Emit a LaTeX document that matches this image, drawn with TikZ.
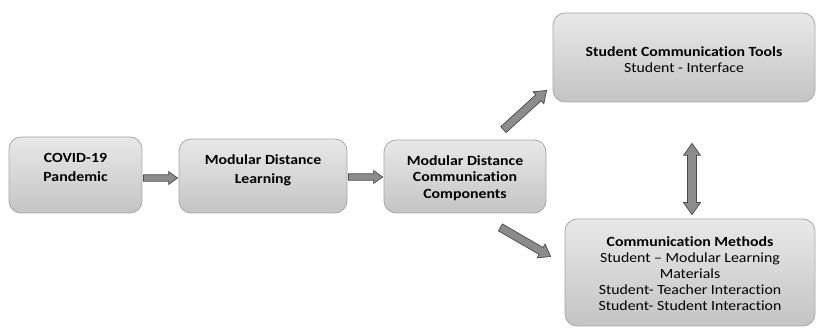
\documentclass[tikz,border=0pt]{standalone}
\usepackage{fontspec}
\setmainfont[FakeStretch=1.13, Ligatures={NoCommon,NoContextual}]{Carlito}
\usetikzlibrary{calc}

\definecolor{boxtop}{HTML}{E8E8E8}
\definecolor{boxbot}{HTML}{C4C4C4}
\definecolor{boxedge}{HTML}{A6A6A6}
\definecolor{arrfill}{HTML}{8C8C8C}
\definecolor{arredge}{HTML}{4A4A4A}

% single block arrow: tail, tip, shaft half-width, head half-width, head length
\newcommand\blockarrow[5]{%
  \coordinate (ba-h) at ($(#2)!#5!(#1)$);
  \filldraw[arrowbody]
    ($(#1)!#3!90:(#2)$) -- ($(ba-h)!#3!-90:(#1)$) -- ($(ba-h)!#4!-90:(#1)$) --
    (#2) -- ($(ba-h)!#4!90:(#1)$) -- ($(ba-h)!#3!90:(#1)$) --
    ($(#1)!#3!-90:(#2)$) -- cycle;
}
% double-headed block arrow: end, end, shaft half-width, head half-width, head length
\newcommand\blockdarrow[5]{%
  \coordinate (bd-h1) at ($(#1)!#5!(#2)$);
  \coordinate (bd-h2) at ($(#2)!#5!(#1)$);
  \filldraw[arrowbody]
    (#1) -- ($(bd-h1)!#4!90:(#2)$) -- ($(bd-h1)!#3!90:(#2)$) --
    ($(bd-h2)!#3!-90:(#1)$) -- ($(bd-h2)!#4!-90:(#1)$) -- (#2) --
    ($(bd-h2)!#4!90:(#1)$) -- ($(bd-h2)!#3!90:(#1)$) --
    ($(bd-h1)!#3!-90:(#2)$) -- ($(bd-h1)!#4!-90:(#2)$) -- cycle;
}

\tikzset{
  stagebox/.style={draw=boxedge, line width=0.8pt, rounded corners=12pt,
    top color=boxtop, bottom color=boxbot, inner sep=0pt},
  lbl/.style={align=center, inner sep=0pt, font=\fontsize{14}{16}\selectfont},
  lblb/.style={lbl, font=\fontsize{14}{19}\selectfont\bfseries},
  arrowbody/.style={fill=arrfill, draw=arredge, line width=0.7pt, line join=miter},
}

\begin{document}
\begin{tikzpicture}[x=1pt, y=-1pt]
  \useasboundingbox (0,0) rectangle (816,328);

  % stage boxes
  \node[stagebox, minimum width=133pt, minimum height=76pt] (covid) at (75.5,175) {};
  \node[stagebox, minimum width=168pt, minimum height=74pt] (mdl) at (263,176) {};
  \node[stagebox, minimum width=162pt, minimum height=73pt] (mdc) at (465,176.5) {};
  \node[stagebox, minimum width=262pt, minimum height=89pt] (tools) at (684,57.5) {};
  \node[stagebox, minimum width=250pt, minimum height=107pt] (methods) at (690,272.5) {};

  % box texts
  \node[lblb] (covidtxt) at ($(covid.center)+(0,-8)$) {COVID-19\\Pandemic};
  \node[lblb] (mdltxt) at ($(mdl.center)+(0,-6)$) {Modular Distance\\Learning};
  \node[lblb, font=\fontsize{14}{16.5}\selectfont\bfseries] (mdctxt) at ($(mdc.center)+(0,1.5)$) {Modular Distance\\Communication\\Components};
  \node[lbl] (toolstxt) at ($(tools.center)+(0,2)$) {\textbf{Student Communication Tools}\\Student - Interface};
  \node[lbl] (methodstxt) at ($(methods.center)+(0,1)$) {\textbf{Communication Methods}\\Student – Modular Learning\\Materials\\Student- Teacher Interaction\\Student- Student Interaction};

  % connector end points
  \coordinate (a1s) at ($(covid.east)+(1,3)$);
  \coordinate (a1e) at ($(mdl.west)+(-1,2)$);
  \coordinate (a2s) at ($(mdl.east)+(1,1)$);
  \coordinate (a2e) at ($(mdc.west)+(-1,0.5)$);
  \coordinate (a3s) at ($(mdc.north east)+(-43,-10)$);
  \coordinate (a3e) at ($(tools.south west)+(-6,-12)$);
  \coordinate (a4s) at ($(mdc.south east)+(-46,14)$);
  \coordinate (a4e) at ($(methods.west)+(-14,-16)$);
  \coordinate (a5s) at ($(tools.south)+(8,41)$);
  \coordinate (a5e) at ($(methods.north)+(2,-4)$);

  % connectors
  \blockarrow{a1s}{a1e}{3.2pt}{6.5pt}{9pt}
  \blockarrow{a2s}{a2e}{3.2pt}{6.5pt}{9pt}
  \blockarrow{a3s}{a3e}{4pt}{8pt}{11pt}
  \blockarrow{a4s}{a4e}{4pt}{8pt}{11pt}
  \blockdarrow{a5s}{a5e}{4.5pt}{8.5pt}{12pt}
\end{tikzpicture}
\end{document}
